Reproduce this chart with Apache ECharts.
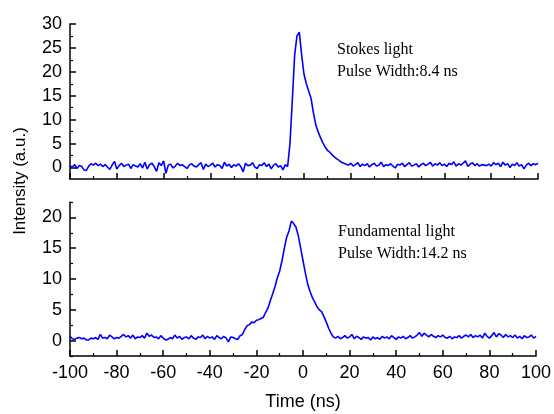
<!DOCTYPE html>
<html>
<head>
<meta charset="utf-8">
<script src="https://cdn.jsdelivr.net/npm/echarts@6/dist/echarts.min.js"></script>
<style>html,body{margin:0;padding:0;background:#fff}#c{width:554px;height:414px}</style>
</head>
<body>
<div id="c"></div>
<script>
// Time axis: -100 .. 100 ns, 1 ns step
var timeStart = -100, timeStep = 1;
// Stokes light intensity (top panel), one value per ns from -100 to 100
var stokes = [
0.3,0.1,0.6,-0.2,0.4,0.2,-0.5,-0.6,0.3,0.8,
0.5,0.9,0.4,0.7,0.2,0.6,0.1,-0.4,0.5,1.3,
-0.3,0.4,0.9,0.2,0.5,0.7,-0.2,0.6,0.3,0.1,
0.8,-0.1,1.1,-0.3,0.6,0.9,0.2,-0.8,1.0,0.4,
1.4,-1.2,0.5,0.7,-0.1,0.3,0.9,0.4,0.6,0.2,
-0.2,0.5,0.8,0.3,0.1,0.6,1.0,-0.4,0.7,0.2,
0.5,0.9,0.1,0.6,0.4,-0.2,1.1,0.3,0.7,0.0,
0.6,0.3,0.8,0.2,-0.9,0.9,0.4,0.5,1.0,0.1,
-0.2,0.6,0.4,1.0,0.2,0.7,-0.3,0.5,0.8,0.1,
0.4,-0.5,0.6,0.2,
5,14,23.5,27.5,28.3,23.5,
19.5,17.5,16,14.5,11.5,9,7.5,6.3,5.2,4.3,
3.6,3.2,2.7,2.2,1.8,1.5,1.1,0.9,0.7,
0.5,0.9,0.3,0.6,1.0,0.2,0.7,0.4,0.8,0.1,
0.6,0.9,0.3,0.5,1.1,0.2,0.6,0.4,0.8,0.3,
-0.1,0.7,0.5,0.9,0.2,0.6,1.0,0.3,0.5,0.8,
0.1,0.6,0.9,0.4,0.7,1.1,0.3,0.8,0.5,1.0,
0.4,0.7,0.2,0.9,0.6,1.2,0.3,0.8,0.5,0.9,
1.4,0.2,0.7,1.0,0.4,0.8,0.3,0.6,0.5,0.4,
0.7,0.3,1.0,0.6,0.9,0.2,1.1,0.5,0.8,0.0,
0.7,0.4,1.0,0.3,0.6,-0.3,0.5,0.9,0.4,0.8,
0.6,0.9
];
// Fundamental light intensity (bottom panel)
var fundamental = [
0.7,0.3,0.2,0.4,0.5,0.3,0.4,0.1,0.1,0.4,
0.3,0.5,0.2,1.0,0.4,0.5,0.3,0.9,0.6,0.3,
0.5,0.4,0.7,1.0,0.6,0.8,0.4,0.9,0.3,0.6,
0.5,0.8,0.4,1.2,0.7,0.9,0.5,0.6,0.3,0.8,
0.4,0.1,0.2,0.5,0.3,0.9,0.4,0.7,0.2,0.5,
0.6,0.3,0.8,0.4,0.2,0.6,0.5,0.9,0.3,0.7,
0.4,0.6,0.2,0.8,0.5,0.3,0.7,0.4,-0.2,0.6,
0.5,0.3,0.2,0.8,1.0,1.8,2.4,2.6,3.0,2.9,
3.3,3.4,3.6,3.8,4.6,5.3,6.5,7.6,8.8,10.2,
11.3,13.0,15.0,16.8,17.8,19.4,19.0,18.4,17.0,15.0,
13.0,11.0,9.2,8.0,7.0,6.3,5.5,5.0,4.7,3.9,
3.0,2.0,1.2,0.6,0.4,0.7,0.3,0.5,0.8,0.4,
0.6,1.0,0.3,0.7,0.5,0.2,0.6,0.4,0.5,0.1,
0.6,0.3,0.5,0.2,0.7,0.4,0.6,0.3,0.8,0.5,
0.2,0.6,0.4,0.7,0.3,0.5,0.8,0.4,0.6,0.9,
1.3,0.7,1.2,0.9,0.6,1.0,0.7,0.5,0.8,0.6,
0.9,0.5,0.4,0.7,0.3,0.6,0.5,0.8,0.4,0.7,
0.9,0.6,1.0,0.5,0.8,0.6,0.9,0.4,1.2,0.7,
0.4,0.8,1.3,0.6,1.1,0.9,0.5,1.0,0.6,0.8,
0.5,0.9,0.4,0.7,0.3,0.8,0.5,0.6,0.9,0.4,
0.7
];
var xTicks = [-100,-80,-60,-40,-20,0,20,40,60,80,100];
var yTicksTop = [0,5,10,15,20,25,30];
var yMinorTop = [-2.5,2.5,7.5,12.5,17.5,22.5,27.5];
var yTicksBottom = [0,5,10,15,20];
var yMinorBottom = [-2.5,2.5,7.5,12.5,17.5,22.5];
var texts = {
  yTitle: 'Intensity (a.u.)', xTitle: 'Time (ns)',
  top1: 'Stokes light', top2: 'Pulse Width:8.4 ns',
  bot1: 'Fundamental light', bot2: 'Pulse Width:14.2 ns'
};

function pairs(arr){ return arr.map(function(v,i){ return [timeStart + i*timeStep, v]; }); }

var SANS = 'Liberation Sans, Arial, sans-serif';
var SERIF = 'Liberation Serif, Times New Roman, serif';
var lineStyle = {color:'#000', width:1.5};

function xAx(grid, showLabel){
  return {
    type:'value', gridIndex:grid, min:-100, max:100, interval:20,
    axisLine:{show:true, onZero:false, lineStyle:lineStyle},
    axisTick:{show:true, inside:true, length:6, lineStyle:lineStyle},
    minorTick:{show:true, splitNumber:2, length:3, lineStyle:{color:'#000', width:1.2}},
    splitLine:{show:false}, minorSplitLine:{show:false},
    axisLabel:{show:showLabel, color:'#000', fontSize:18, fontFamily:SANS, margin:8}
  };
}
function yMajor(grid, min, max, ticks){
  return {
    type:'value', gridIndex:grid, min:min, max:max, position:'left',
    axisLine:{show:true, onZero:false, lineStyle:lineStyle},
    axisTick:{show:true, inside:true, length:6, customValues:ticks, lineStyle:lineStyle},
    splitLine:{show:false},
    axisLabel:{show:true, customValues:ticks, color:'#000', fontSize:18, fontFamily:SANS, margin:8}
  };
}
function yMinor(grid, min, max, ticks){
  return {
    type:'value', gridIndex:grid, min:min, max:max, position:'left',
    axisLine:{show:false, onZero:false},
    axisTick:{show:true, inside:true, length:3, customValues:ticks, lineStyle:{color:'#000', width:1.2}},
    splitLine:{show:false},
    axisLabel:{show:false}
  };
}

var chart = echarts.init(document.getElementById('c'), null, {renderer:'canvas'});
chart.setOption({
  animation:false,
  backgroundColor:'#fff',
  grid:[
    {left:70, right:16, top:24, height:155},
    {left:70, right:16, top:202, height:154}
  ],
  xAxis:[xAx(0,false), xAx(1,true)],
  yAxis:[
    yMajor(0,-2.4,30,yTicksTop), yMinor(0,-2.4,30,yMinorTop),
    yMajor(1,-2.5,22.5,yTicksBottom), yMinor(1,-2.5,22.5,yMinorBottom)
  ],
  series:[
    {type:'line', xAxisIndex:0, yAxisIndex:0, data:pairs(stokes), showSymbol:false, lineStyle:{color:'#0000ff', width:1.6}, z:1},
    {type:'line', xAxisIndex:1, yAxisIndex:2, data:pairs(fundamental), showSymbol:false, lineStyle:{color:'#0000ff', width:1.6}, z:1}
  ],
  graphic:[
    {type:'text', x:20, y:181, rotation:Math.PI/2, style:{text:texts.yTitle, font:'17px '+SANS, fill:'#000', textAlign:'center', textVerticalAlign:'middle'}},
    {type:'text', x:303, y:402, style:{text:texts.xTitle, font:'18px '+SANS, fill:'#000', textAlign:'center', textVerticalAlign:'middle'}},
    {type:'text', x:337, y:50, style:{text:texts.top1, font:'16px '+SERIF, fill:'#000', textAlign:'left', textVerticalAlign:'middle'}},
    {type:'text', x:337, y:72, style:{text:texts.top2, font:'16px '+SERIF, fill:'#000', textAlign:'left', textVerticalAlign:'middle'}},
    {type:'text', x:338, y:232, style:{text:texts.bot1, font:'16px '+SERIF, fill:'#000', textAlign:'left', textVerticalAlign:'middle'}},
    {type:'text', x:338, y:254, style:{text:texts.bot2, font:'16px '+SERIF, fill:'#000', textAlign:'left', textVerticalAlign:'middle'}}
  ]
});
</script>
</body>
</html>
